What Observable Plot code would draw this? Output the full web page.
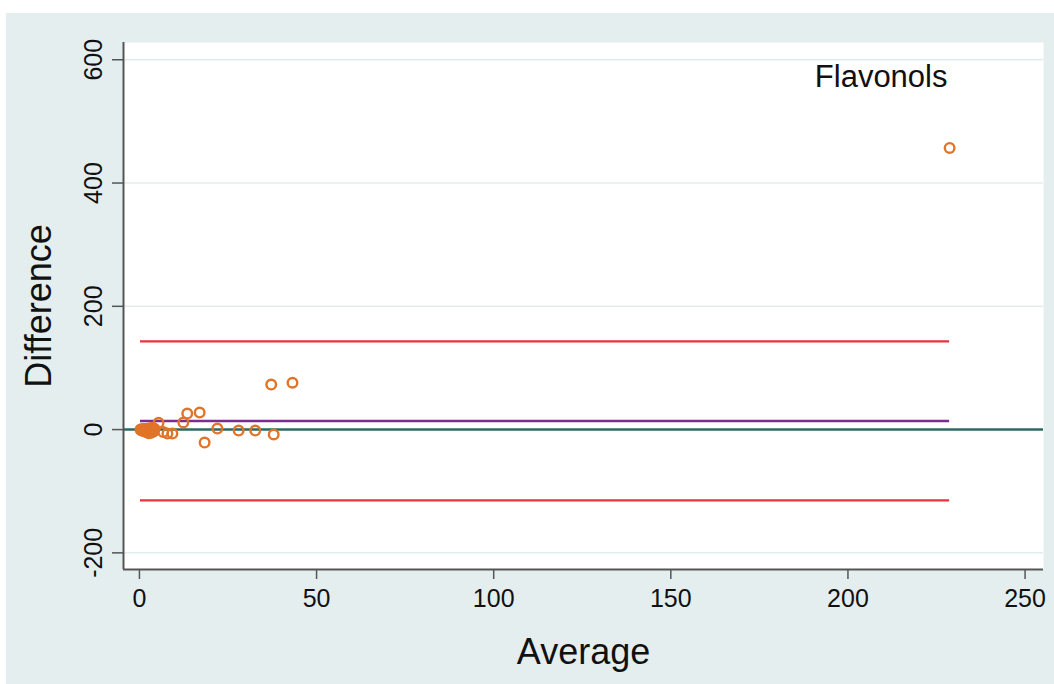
<!DOCTYPE html>
<html>
<head>
<meta charset="utf-8">
<script src="https://cdn.jsdelivr.net/npm/d3@7"></script>
<script src="https://cdn.jsdelivr.net/npm/@observablehq/plot@0.6"></script>
<style>
  html, body { margin: 0; padding: 0; background: #ffffff; }
  #wrap { padding-left: 6px; padding-top: 13px; width: 1048px; height: 671px; }
  svg { display: block; font-family: "Liberation Sans", Arial, Helvetica, sans-serif; }
</style>
</head>
<body>
<div id="wrap"></div>
<script>
const average = [
  0.3, 0.5, 0.7, 0.9, 1.1, 1.3, 1.5, 1.8, 2.0, 2.2, 2.5, 2.8, 3.0, 3.3, 3.6, 4.0, 4.3, 1.0, 2.6, 3.8,
  5.4, 6.7, 7.9, 9.3, 12.4, 13.5, 17.0, 18.4, 22.0, 28.0, 32.7, 37.2, 37.9, 43.2, 228.7
];
const difference = [
  0, -1, 0.5, -2, 1, -0.5, -3, 0, 1.5, -4, -1, -2, 2, -5, 0, -3, 1, -1.5, -6, 3,
  11, -4, -6.5, -6.5, 11.5, 26, 27.6, -21, 1.6, -1.6, -1.6, 73, -8, 76, 457
];
const meanDiff = [14];
const limits = [143, -115];
const xTicks = [0, 50, 100, 150, 200, 250];
const yTicks = [-200, 0, 200, 400, 600];
const gridTicks = [-200, 200, 400, 600];
const panelLabel = ["Flavonols"];
const xTitle = "Average";
const yTitle = "Difference";

const points = average.map((a, i) => ({average: a, difference: difference[i]}));
const [xMin, xMax] = d3.extent(average);
const xDomain = [-4.5, 255.2];
const yDomain = [-227, 628];

const axisColor = "#555555";
const font = "Liberation Sans, Arial, Helvetica, sans-serif";

const chart = Plot.plot({
  width: 1048,
  height: 671,
  marginLeft: 117,
  marginRight: 11,
  marginTop: 29,
  marginBottom: 115,
  style: {background: "#e4eeee", fontFamily: font, color: "#111"},
  x: {domain: xDomain},
  y: {domain: yDomain},
  marks: [
    Plot.frame({fill: "white", stroke: "none"}),
    Plot.ruleY(gridTicks, {stroke: "#e2ecec", strokeWidth: 1.5}),
    Plot.ruleY([0], {stroke: "#2a6a61", strokeWidth: 2.5}),
    Plot.ruleY(limits, {x1: xMin, x2: xMax, stroke: "#e8323c", strokeWidth: 2.3}),
    Plot.ruleY(meanDiff, {x1: xMin, x2: xMax, stroke: "#7b2c8c", strokeWidth: 2.5}),
    Plot.dot(points, {x: "average", y: "difference", r: 4.8, stroke: "#e07428", strokeWidth: 2.4, fill: "none"}),
    // axis lines
    Plot.ruleX([xDomain[0]], {stroke: axisColor, strokeWidth: 2}),
    Plot.ruleY([yDomain[0]], {stroke: axisColor, strokeWidth: 2}),
    // x axis
    Plot.axisX({ticks: xTicks, tickSize: 10, tickPadding: 10, fontSize: 25, label: null, stroke: axisColor, strokeWidth: 1.5, color: "#111"}),
    // y axis ticks + rotated labels
    Plot.axisY({ticks: yTicks, tickSize: 11, tickFormat: () => "", label: null, stroke: axisColor, strokeWidth: 1.5}),
    Plot.text(yTicks, {y: d => d, frameAnchor: "left", textAnchor: "middle", dx: -30, rotate: -90, text: d => String(d), fontSize: 25, fill: "#111"}),
    // titles
    Plot.text([xTitle], {frameAnchor: "bottom", textAnchor: "middle", dy: 94, text: d => d, fontSize: 36, fill: "#111"}),
    Plot.text([yTitle], {frameAnchor: "left", textAnchor: "middle", dx: -84, rotate: -90, text: d => d, fontSize: 36, fill: "#111"}),
    Plot.text(panelLabel, {frameAnchor: "top-right", dx: -96, dy: 22, textAnchor: "end", text: d => d, fontSize: 31, fill: "#111"})
  ]
});
document.getElementById("wrap").appendChild(chart);
</script>
</body>
</html>
